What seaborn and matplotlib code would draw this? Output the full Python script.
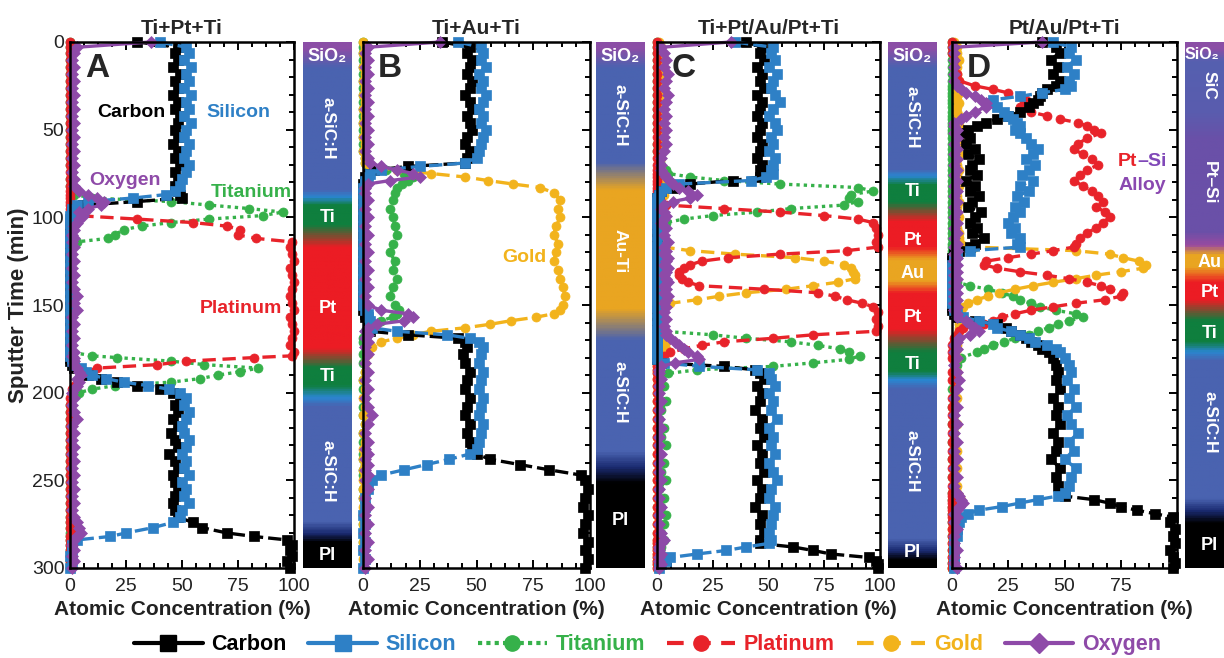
import numpy as np
import matplotlib
matplotlib.use("Agg")
import matplotlib.pyplot as plt
import seaborn as sns
from matplotlib.colors import LinearSegmentedColormap
from matplotlib.ticker import MultipleLocator
from matplotlib.lines import Line2D

# ---------------- panel A : Ti+Pt+Ti ----------------
time_a = [0, 3, 6, 10, 14, 18, 22, 26, 30, 34,
          38, 42, 46, 50, 54, 58, 62, 66, 70, 74,
          78, 82, 85, 87, 89, 91, 93, 95, 97, 99,
          101, 103, 105, 107, 110, 112, 114, 117, 121, 125,
          129, 133, 137, 141, 145, 149, 153, 157, 161, 165,
          169, 173, 177, 179, 180, 182, 184, 186, 188, 190,
          192, 194, 196, 198, 200, 203, 207, 211, 215, 219,
          223, 227, 231, 235, 239, 243, 247, 251, 255, 259,
          263, 267, 271, 274, 277, 280, 282, 284, 287, 290,
          293, 296, 300]
carbon_a = [30, 48, 47, 48, 46, 49, 47, 48, 46, 48,
            47, 49, 48, 47, 48, 46, 48, 47, 49, 47,
            48, 47, 48, 49, 50, 30, 6, 2, 1, 1,
            1, 0, 0, 0, 0, 0, 0, 0, 0, 0,
            0, 0, 0, 0, 0, 0, 0, 0, 0, 0,
            0, 0, 0, 0, 0, 0, 1, 2, 5, 8,
            14, 21, 30, 40, 46, 49, 47, 48, 46, 48,
            45, 47, 48, 44, 47, 48, 46, 47, 48, 47,
            46, 47, 48, 55, 59, 70, 82, 97, 99, 98,
            99, 97, 98]
silicon_a = [40, 52, 53, 51, 54, 52, 53, 51, 54, 52,
             53, 51, 54, 52, 51, 53, 52, 51, 53, 52,
             50, 49, 47, 43, 28, 8, 3, 1, 1, 0,
             0, 0, 1, 0, 0, 0, 0, 0, 0, 0,
             0, 0, 0, 0, 0, 0, 0, 0, 0, 0,
             0, 0, 0, 0, 1, 1, 2, 5, 7, 10,
             16, 24, 35, 44, 49, 52, 51, 53, 52, 50,
             51, 53, 52, 50, 52, 51, 53, 50, 52, 51,
             53, 50, 49, 46, 37, 25, 18, 3, 1, 1,
             0, 1, 0]
titanium_a = [0, 0, 0, 0, 0, 0, 0, 0, 0, 0,
              0, 0, 0, 0, 0, 0, 0, 0, 0, 1,
              0, 0, 1, 2, 10, 45, 62, 80, 95, 86,
              62, 45, 32, 24, 20, 17, 3, 0, 0, 0,
              0, 0, 0, 0, 1, 0, 0, 0, 0, 0,
              0, 0, 1, 10, 21, 45, 60, 84, 76, 66,
              58, 45, 20, 10, 4, 1, 0, 0, 0, 0,
              0, 0, 0, 0, 0, 0, 0, 0, 0, 0,
              0, 0, 0, 0, 0, 0, 0, 0, 0, 0,
              0, 0, 0]
platinum_a = [0, 0, 0, 0, 0, 0, 0, 0, 0, 0,
              0, 0, 0, 0, 0, 0, 0, 0, 0, 0,
              0, 0, 0, 0, 0, 0, 0, 0, 1, 3,
              30, 55, 70, 76, 75, 83, 99, 98, 99, 100,
              98, 99, 100, 99, 98, 99, 100, 98, 99, 100,
              99, 98, 100, 99, 82, 52, 39, 12, 7, 5,
              4, 3, 2, 1, 1, 0, 0, 0, 0, 0,
              0, 0, 0, 0, 0, 0, 0, 0, 0, 0,
              0, 0, 0, 0, 0, 1, 0, 0, 0, 0,
              0, 0, 0]
oxygen_a = [36, 3, 2, 1, 2, 1, 2, 1, 2, 1,
            2, 1, 2, 1, 2, 1, 2, 1, 2, 1,
            2, 2, 4, 8, 12, 15, 14, 8, 4, 6,
            4, 3, 2, 2, 1, 2, 1, 2, 1, 2,
            1, 2, 1, 2, 3, 2, 3, 1, 2, 1,
            2, 1, 2, 1, 2, 2, 2, 3, 4, 5,
            3, 4, 3, 2, 1, 2, 1, 2, 3, 1,
            2, 1, 2, 1, 2, 1, 2, 1, 2, 1,
            2, 1, 2, 3, 4, 5, 3, 2, 1, 2,
            1, 2, 1]

# ---------------- panel B : Ti+Au+Ti ----------------
time_b = [0, 3, 6, 10, 14, 18, 22, 26, 30, 34,
          38, 42, 46, 50, 54, 58, 62, 66, 69, 71,
          73, 75, 77, 79, 81, 83, 86, 90, 95, 100,
          105, 110, 115, 120, 125, 130, 135, 140, 145, 150,
          153, 155, 157, 159, 161, 163, 165, 167, 169, 171,
          174, 178, 183, 188, 193, 198, 203, 208, 213, 218,
          223, 228, 232, 235, 238, 241, 244, 247, 250, 255,
          260, 265, 270, 275, 280, 285, 290, 295, 300]
carbon_b = [35, 47, 46, 48, 47, 46, 48, 47, 45, 47,
            48, 46, 47, 48, 46, 45, 47, 46, 45, 20,
            5, 2, 1, 1, 0, 0, 0, 0, 0, 0,
            0, 0, 0, 0, 0, 0, 0, 0, 0, 0,
            0, 1, 1, 2, 2, 3, 3, 20, 42, 45,
            46, 44, 45, 47, 46, 45, 47, 46, 45, 47,
            46, 47, 48, 50, 56, 69, 82, 96, 98, 99,
            98, 97, 99, 98, 97, 99, 98, 99, 98]
silicon_b = [42, 52, 53, 52, 54, 51, 53, 52, 54, 53,
             51, 53, 52, 54, 53, 52, 51, 50, 45, 25,
             8, 3, 2, 1, 1, 0, 0, 0, 0, 0,
             0, 0, 0, 0, 0, 0, 0, 0, 0, 0,
             1, 2, 2, 3, 3, 4, 15, 37, 47, 51,
             53, 52, 51, 53, 52, 51, 53, 52, 51, 53,
             52, 51, 50, 47, 38, 28, 18, 8, 4, 2,
             1, 1, 0, 1, 0, 1, 0, 1, 0]
titanium_b = [0, 0, 0, 0, 0, 0, 0, 0, 0, 0,
              0, 0, 0, 0, 0, 0, 0, 1, 1, 2,
              10, 18, 22, 20, 17, 15, 14, 13, 12, 13,
              14, 15, 13, 12, 14, 13, 15, 13, 12, 14,
              16, 15, 13, 8, 4, 2, 1, 1, 0, 0,
              1, 0, 0, 1, 0, 0, 1, 0, 0, 1,
              0, 0, 1, 0, 0, 1, 0, 0, 1, 0,
              0, 1, 0, 0, 1, 0, 0, 1, 0]
gold_b = [0, 1, 0, 1, 0, 1, 0, 1, 0, 1,
          0, 1, 0, 1, 0, 1, 0, 1, 1, 3,
          15, 30, 45, 55, 66, 78, 84, 87, 86, 87,
          85, 84, 86, 85, 84, 86, 87, 88, 89, 88,
          87, 84, 76, 65, 56, 45, 30, 22, 15, 8,
          4, 2, 1, 1, 0, 1, 0, 1, 0, 1,
          0, 1, 0, 1, 0, 1, 0, 1, 0, 0,
          0, 0, 0, 0, 0, 0, 0, 0, 0]
oxygen_b = [34, 2, 1, 2, 1, 2, 1, 2, 1, 2,
            1, 2, 1, 2, 1, 2, 1, 2, 3, 8,
            15, 22, 25, 12, 2, 1, 1, 2, 1, 2,
            1, 2, 1, 2, 1, 2, 1, 2, 1, 2,
            8, 20, 22, 18, 6, 2, 1, 2, 1, 2,
            1, 2, 1, 2, 1, 2, 1, 2, 4, 2,
            1, 2, 1, 2, 1, 2, 1, 2, 1, 2,
            1, 2, 1, 2, 1, 2, 1, 2, 1]

# ---------------- panel C : Ti+Pt/Au/Pt+Ti ----------------
time_c = [0, 3, 6, 10, 14, 18, 22, 26, 30, 34,
          38, 42, 46, 50, 54, 58, 62, 66, 70, 73,
          75, 77, 79, 81, 83, 85, 87, 89, 91, 93,
          95, 97, 99, 101, 103, 106, 110, 114, 117, 119,
          121, 123, 125, 127, 129, 131, 133, 135, 137, 139,
          141, 143, 145, 147, 149, 151, 154, 158, 162, 165,
          167, 169, 171, 173, 175, 177, 179, 181, 183, 185,
          187, 189, 192, 196, 200, 205, 210, 215, 220, 225,
          230, 235, 240, 245, 250, 255, 260, 265, 270, 275,
          280, 284, 286, 288, 290, 292, 294, 296, 298, 300]
carbon_c = [40, 47, 46, 48, 45, 47, 46, 48, 45, 47,
            46, 45, 47, 46, 45, 47, 46, 45, 47, 46,
            47, 46, 34, 15, 7, 2, 1, 0, 0, 0,
            0, 0, 0, 0, 0, 0, 0, 0, 0, 0,
            0, 0, 0, 0, 0, 0, 0, 0, 0, 0,
            0, 0, 0, 0, 0, 0, 0, 0, 0, 0,
            0, 0, 0, 0, 0, 0, 0, 0, 2, 30,
            44, 46, 48, 45, 47, 46, 44, 47, 46, 48,
            45, 47, 46, 48, 45, 47, 46, 44, 47, 46,
            48, 46, 46, 61, 70, 78, 95, 98, 99, 99]
silicon_c = [35, 52, 51, 53, 50, 54, 52, 51, 53, 55,
             52, 50, 53, 54, 51, 52, 50, 53, 52, 51,
             52, 49, 42, 10, 4, 2, 1, 0, 0, 0,
             0, 0, 0, 0, 0, 0, 0, 0, 0, 0,
             0, 0, 0, 0, 0, 0, 0, 0, 0, 0,
             0, 0, 0, 0, 0, 0, 0, 0, 0, 0,
             0, 0, 0, 0, 0, 0, 0, 0, 3, 19,
             45, 50, 51, 53, 50, 52, 51, 54, 50, 52,
             51, 53, 50, 52, 54, 51, 50, 53, 52, 51,
             50, 51, 50, 40, 31, 18, 6, 4, 2, 1]
titanium_c = [0, 0, 0, 0, 0, 0, 0, 0, 0, 0,
              0, 0, 0, 0, 1, 0, 0, 1, 2, 4,
              5, 15, 30, 55, 90, 97, 87, 86, 90, 84,
              60, 45, 25, 12, 4, 1, 0, 0, 0, 0,
              0, 0, 0, 0, 0, 0, 0, 0, 0, 0,
              0, 0, 0, 0, 0, 0, 0, 0, 1, 3,
              25, 40, 60, 72, 82, 86, 91, 86, 70, 52,
              18, 5, 2, 3, 1, 4, 2, 1, 3, 2,
              4, 1, 3, 2, 4, 1, 3, 2, 4, 3,
              2, 3, 1, 2, 1, 2, 1, 2, 1, 1]
platinum_c = [0, 0, 0, 0, 0, 0, 0, 0, 0, 0,
              0, 0, 0, 0, 0, 0, 0, 0, 0, 0,
              0, 0, 0, 0, 0, 0, 0, 0, 2, 4,
              30, 55, 75, 90, 97, 98, 99, 98, 99, 85,
              55, 32, 20, 15, 12, 10, 10, 11, 14, 19,
              48, 72, 80, 85, 92, 97, 99, 98, 99, 98,
              70, 52, 30, 20, 12, 6, 3, 1, 1, 0,
              0, 0, 0, 0, 0, 0, 0, 0, 0, 0,
              0, 0, 0, 0, 0, 0, 0, 0, 0, 0,
              0, 0, 0, 0, 0, 0, 0, 0, 0, 0]
gold_c = [1, 2, 1, 2, 1, 2, 1, 2, 1, 2,
          1, 2, 1, 2, 1, 2, 1, 2, 1, 2,
          1, 2, 3, 2, 3, 2, 3, 2, 1, 2,
          1, 2, 1, 1, 2, 1, 1, 2, 3, 15,
          35, 62, 75, 84, 87, 88, 89, 89, 81, 70,
          58, 40, 28, 18, 6, 3, 2, 2, 1, 2,
          2, 3, 4, 3, 4, 3, 2, 1, 1, 0,
          0, 0, 0, 0, 0, 0, 0, 0, 0, 0,
          0, 0, 0, 0, 0, 0, 0, 0, 0, 0,
          0, 0, 0, 0, 0, 0, 0, 0, 0, 0]
oxygen_c = [33, 2, 3, 4, 3, 5, 4, 3, 5, 4,
            3, 4, 3, 4, 3, 4, 3, 2, 2, 2,
            3, 4, 6, 7, 10, 14, 18, 15, 7, 3,
            2, 3, 4, 3, 2, 4, 3, 5, 3, 4,
            3, 5, 4, 3, 5, 4, 3, 4, 5, 3,
            4, 3, 5, 4, 3, 4, 3, 4, 3, 4,
            4, 6, 8, 10, 12, 14, 18, 19, 8, 2,
            1, 1, 2, 1, 1, 2, 1, 1, 2, 1,
            1, 2, 1, 1, 2, 1, 1, 2, 1, 1,
            2, 3, 2, 1, 1, 2, 1, 1, 2, 1]

# ---------------- panel D : Pt/Au/Pt+Ti ----------------
time_d = [0, 3, 6, 10, 14, 18, 22, 25, 27, 29,
          31, 33, 35, 37, 40, 42, 44, 46, 48, 50,
          52, 55, 58, 61, 64, 67, 70, 73, 76, 79,
          82, 85, 88, 91, 94, 97, 100, 103, 106, 109,
          112, 115, 117, 119, 121, 123, 125, 127, 129, 131,
          133, 135, 137, 139, 141, 143, 145, 147, 149, 151,
          153, 155, 157, 159, 161, 163, 165, 167, 169, 171,
          173, 175, 177, 180, 184, 188, 193, 198, 203, 208,
          213, 218, 223, 228, 233, 238, 243, 248, 253, 257,
          259, 261, 263, 265, 267, 269, 271, 274, 278, 282,
          286, 290, 294, 297, 300]
carbon_d = [40, 46, 48, 44, 47, 45, 48, 46, 42, 40,
            39, 38, 36, 34, 30, 25, 20, 15, 11, 7,
            5, 8, 6, 10, 7, 12, 9, 8, 11, 6,
            10, 8, 12, 9, 7, 13, 10, 8, 11, 9,
            14, 10, 8, 3, 1, 0, 0, 0, 0, 0,
            0, 0, 0, 0, 0, 0, 0, 0, 0, 0,
            0, 1, 2, 10, 20, 24, 26, 30, 33, 35,
            38, 40, 43, 45, 46, 47, 46, 48, 45, 47,
            46, 48, 45, 47, 46, 44, 48, 46, 47, 48,
            50, 63, 70, 75, 82, 90, 98, 97, 99, 98,
            99, 97, 98, 99, 98]
silicon_d = [45, 53, 52, 55, 51, 54, 52, 53, 50, 40,
             30, 18, 16, 20, 23, 25, 27, 29, 30, 28,
             30, 33, 35, 38, 36, 33, 37, 34, 31, 36,
             30, 34, 29, 32, 28, 30, 27, 25, 28, 26,
             30, 29, 30, 8, 2, 1, 1, 0, 0, 0,
             0, 0, 0, 0, 0, 0, 0, 0, 0, 1,
             1, 2, 5, 12, 18, 20, 26, 30, 34, 37,
             42, 46, 48, 50, 52, 53, 51, 54, 52, 55,
             51, 53, 56, 52, 54, 50, 55, 53, 52, 50,
             47, 38, 30, 22, 12, 7, 4, 3, 2, 2,
             1, 1, 1, 1, 1]
titanium_d = [0, 0, 0, 0, 0, 0, 0, 0, 0, 0,
              0, 0, 0, 0, 0, 0, 0, 0, 0, 0,
              0, 0, 0, 0, 0, 0, 0, 0, 0, 0,
              0, 0, 0, 0, 0, 0, 0, 0, 0, 0,
              0, 0, 0, 0, 0, 0, 0, 0, 0, 0,
              0, 0, 2, 8, 16, 22, 27, 30, 35, 39,
              46, 55, 58, 52, 47, 43, 38, 34, 28, 23,
              18, 14, 11, 4, 2, 1, 1, 0, 1, 0,
              1, 0, 1, 0, 1, 0, 1, 0, 1, 0,
              1, 0, 1, 0, 1, 0, 1, 0, 1, 0,
              1, 0, 1, 0, 0]
platinum_d = [0, 0, 0, 1, 1, 2, 3, 10, 18, 25,
              30, 33, 32, 30, 35, 42, 48, 56, 60, 63,
              66, 60, 56, 54, 58, 62, 65, 60, 57, 54,
              58, 62, 65, 67, 64, 68, 70, 67, 64, 60,
              57, 55, 54, 45, 35, 25, 15, 14, 20, 30,
              42, 52, 60, 66, 70, 76, 75, 68, 55, 45,
              35, 28, 22, 18, 14, 5, 3, 2, 1, 1,
              0, 1, 0, 0, 1, 0, 0, 1, 0, 0,
              0, 0, 0, 0, 0, 0, 0, 0, 0, 0,
              0, 0, 0, 0, 0, 0, 0, 0, 0, 0,
              0, 0, 0, 0, 0]
gold_d = [1, 2, 2, 3, 2, 2, 3, 2, 2, 3,
          2, 2, 3, 2, 2, 3, 2, 2, 3, 2,
          2, 3, 2, 2, 3, 2, 2, 3, 2, 2,
          3, 2, 2, 3, 2, 2, 3, 2, 2, 3,
          3, 4, 10, 55, 70, 76, 83, 86, 85, 75,
          64, 55, 45, 36, 28, 21, 16, 11, 7, 5,
          4, 3, 3, 3, 3, 3, 3, 2, 2, 2,
          2, 2, 1, 2, 1, 2, 1, 1, 2, 1,
          1, 2, 1, 1, 2, 1, 2, 1, 2, 2,
          3, 4, 3, 2, 1, 1, 1, 1, 0, 1,
          0, 1, 0, 1, 0]
oxygen_d = [40, 1, 1, 1, 1, 1, 1, 2, 4, 6,
            10, 13, 15, 15, 10, 6, 4, 1, 1, 2,
            1, 2, 1, 2, 1, 2, 1, 2, 1, 2,
            1, 2, 1, 2, 1, 2, 1, 2, 1, 2,
            1, 2, 1, 2, 1, 2, 1, 2, 1, 2,
            1, 2, 1, 2, 1, 2, 1, 2, 1, 2,
            1, 2, 2, 6, 8, 10, 12, 8, 3, 2,
            1, 2, 1, 2, 1, 2, 3, 2, 1, 2,
            1, 2, 1, 2, 1, 2, 1, 2, 1, 2,
            3, 4, 5, 3, 2, 1, 2, 1, 2, 1,
            1, 2, 1, 1, 2]

titles = ["Ti+Pt+Ti", "Ti+Au+Ti", "Ti+Pt/Au/Pt+Ti", "Pt/Au/Pt+Ti"]
letters = ["A", "B", "C", "D"]
element_names = ["Carbon", "Silicon", "Titanium", "Platinum", "Gold", "Oxygen"]

# layer strips: (sputter time, colour) anchors and (text, time, rotation) labels
PUR, BLU, LBL, GRN = "#8b4ea6", "#4a63b0", "#2a86d0", "#0f7f3e"
RED, GLD, NAV, BLK, VIO = "#ec1c24", "#e9a521", "#1a2a70", "#000000", "#6a50a8"
strip_a = [(0, PUR), (3, PUR), (14, BLU), (84, BLU), (88, LBL), (93, GRN), (104, GRN),
           (117, RED), (175, RED), (186, GRN), (196, GRN), (203, LBL), (208, BLU),
           (274, BLU), (281, NAV), (286, BLK), (300, BLK)]
strip_b = [(0, PUR), (3, PUR), (14, BLU), (68, BLU), (84, GLD), (152, GLD), (170, BLU),
           (234, BLU), (243, NAV), (252, BLK), (300, BLK)]
strip_c = [(0, PUR), (3, PUR), (14, BLU), (72, BLU), (76, LBL), (81, GRN), (91, GRN),
           (102, RED), (117, RED), (124, GLD), (136, GLD), (143, RED), (164, RED),
           (177, GRN), (188, GRN), (193, LBL), (198, BLU), (284, BLU), (291, NAV),
           (296, BLK), (300, BLK)]
strip_d = [(0, PUR), (3, PUR), (10, "#5560b0"), (40, "#5a5cae"), (55, VIO), (108, VIO),
           (116, "#9a4aa0"), (121, GLD), (128, GLD), (137, RED), (147, RED), (159, GRN),
           (171, GRN), (177, LBL), (182, BLU), (261, BLU), (268, NAV), (275, BLK), (300, BLK)]
layers_a = [("SiO₂", 8, 0), ("a-SiC:H", 49, -90), ("Ti", 100, 0), ("Pt", 152, 0),
            ("Ti", 191, 0), ("a-SiC:H", 245, -90), ("PI", 293, 0)]
layers_b = [("SiO₂", 8, 0), ("a-SiC:H", 42, -90), ("Au-Ti", 119, -90),
            ("a-SiC:H", 200, -90), ("PI", 273, 0)]
layers_c = [("SiO₂", 8, 0), ("a-SiC:H", 43, -90), ("Ti", 85, 0), ("Pt", 113, 0),
            ("Au", 132, 0), ("Pt", 157, 0), ("Ti", 184, 0), ("a-SiC:H", 239, -90),
            ("PI", 291, 0)]
layers_d = [("SiO₂", 7, 0), ("SiC", 25, -90), ("Pt–Si", 80, -90), ("Au", 126, 0),
            ("Pt", 143, 0), ("Ti", 166, 0), ("a-SiC:H", 217, -90), ("PI", 287, 0)]

COLORS = {"Carbon": "#000000", "Silicon": "#2e80c6", "Titanium": "#36b14a",
          "Platinum": "#e8232a", "Gold": "#f2b31c", "Oxygen": "#8e4aa8"}
STYLE = {"Carbon": ((0, (4, 1.5)), "s", 6.5),
         "Silicon": ((0, (4, 1.5)), "s", 6.5),
         "Titanium": ((0, (1, 1.2)), "o", 6.5),
         "Platinum": ((0, (4, 2)), "o", 6.5),
         "Gold": ((0, (4, 2)), "o", 6.5),
         "Oxygen": ("-", "D", 6)}
DRAW_ORDER = ["Titanium", "Gold", "Platinum", "Carbon", "Silicon", "Oxygen"]

sns.set_theme(style="ticks")
plt.rcParams["font.family"] = ["Liberation Sans", "DejaVu Sans"]
plt.rcParams["axes.edgecolor"] = "black"
plt.rcParams["xtick.color"] = "black"
plt.rcParams["ytick.color"] = "black"

W, H = 1224, 658
fig = plt.figure(figsize=(W / 100, H / 100), dpi=100)


def box(x0, x1, y0=42, y1=568):
    return [x0 / W, 1 - y1 / H, (x1 - x0) / W, (y1 - y0) / H]


def draw_profile(ax, t, series):
    for name in DRAW_ORDER:
        if name not in series:
            continue
        ls, mk, ms = STYLE[name]
        sns.lineplot(x=series[name], y=t, orient="y", sort=False, estimator=None, ax=ax,
                     color=COLORS[name], linestyle=ls, linewidth=2.4, marker=mk,
                     markersize=ms, markeredgecolor=COLORS[name], markeredgewidth=0.5,
                     clip_on=False)


def draw_strip(ax, anchors, labels, last=False):
    cmap = LinearSegmentedColormap.from_list(
        "layers", [(t / 300, c) for t, c in anchors])
    ax.imshow(np.linspace(0, 1, 600).reshape(-1, 1), cmap=cmap, aspect="auto",
              extent=[0, 1, 300, 0])
    ax.set_xlim(0, 1)
    ax.set_ylim(300, 0)
    ax.axis("off")
    for text, t, rot in labels:
        if last and text == "SiO₂":
            # the last strip runs past the figure edge, keep its top label inside
            ax.text(0.0, t, text, color="white", ha="left", va="center",
                    fontsize=11.5, fontweight="bold")
            continue
        ax.text(0.5, t, text, color="white", ha="center", va="center", rotation=rot,
                fontsize=13 if rot == 0 else 12.5, fontweight="bold")


panels = [
    (time_a, {"Carbon": carbon_a, "Silicon": silicon_a, "Titanium": titanium_a,
              "Platinum": platinum_a, "Oxygen": oxygen_a}, (70, 294), (303, 352), strip_a, layers_a),
    (time_b, {"Carbon": carbon_b, "Silicon": silicon_b, "Titanium": titanium_b,
              "Gold": gold_b, "Oxygen": oxygen_b}, (363, 590), (596, 645), strip_b, layers_b),
    (time_c, {"Carbon": carbon_c, "Silicon": silicon_c, "Titanium": titanium_c,
              "Platinum": platinum_c, "Gold": gold_c, "Oxygen": oxygen_c},
     (657, 880), (888, 937), strip_c, layers_c),
    (time_d, {"Carbon": carbon_d, "Silicon": silicon_d, "Titanium": titanium_d,
              "Platinum": platinum_d, "Gold": gold_d, "Oxygen": oxygen_d},
     (952, 1177), (1185, 1234), strip_d, layers_d),
]

axes = []
for i, (t, series, (x0, x1), (s0, s1), anchors, labels) in enumerate(panels):
    ax = fig.add_axes(box(x0, x1))
    draw_profile(ax, t, series)
    ax.set_xlim(0, 100)
    ax.set_ylim(300, 0)
    ax.set_xticks([0, 25, 50, 75] if i == 3 else [0, 25, 50, 75, 100])
    ax.set_yticks(range(0, 301, 50))
    ax.xaxis.set_minor_locator(MultipleLocator(6.25))
    ax.yaxis.set_minor_locator(MultipleLocator(10))
    ax.tick_params(axis="x", which="both", direction="in", top=True, bottom=True,
                   labelsize=14, pad=7, width=1.4, labelcolor="#222222")
    ax.tick_params(axis="y", which="both", direction="in", right=True, left=False,
                   labelleft=(i == 0), labelsize=14, pad=4, width=1.4, labelcolor="#222222")
    ax.tick_params(which="major", length=6)
    ax.tick_params(which="minor", length=3.5)
    for sp in ax.spines.values():
        sp.set_visible(True)
        sp.set_linewidth(1.8)
        sp.set_color("black")
    ax.set_xlabel("Atomic Concentration (%)", fontsize=15, fontweight="bold",
                  color="#222222", labelpad=4)
    if i == 0:
        ax.set_ylabel("Sputter Time (min)", fontsize=16, fontweight="bold",
                      color="#222222", labelpad=2)
    else:
        ax.set_ylabel("")
    ax.set_title(titles[i], fontsize=15, fontweight="bold", pad=6)
    ax.text(12, 15, letters[i], fontsize=24, fontweight="bold", ha="center", va="center")
    sax = fig.add_axes(box(s0, s1))
    draw_strip(sax, anchors, labels, last=(i == 3))
    axes.append(ax)

ax_a, ax_b, ax_c, ax_d = axes
note = dict(fontsize=14, fontweight="bold", ha="center", va="center")
ax_a.text(27.5, 40, "Carbon", color=COLORS["Carbon"], **note)
ax_a.text(75, 40, "Silicon", color=COLORS["Silicon"], **note)
ax_a.text(24.5, 79, "Oxygen", color=COLORS["Oxygen"], **note)
ax_a.text(81, 86, "Titanium", color=COLORS["Titanium"], **note)
ax_a.text(76.5, 152, "Platinum", color=COLORS["Platinum"], **note)
ax_b.text(71, 123, "Gold", color=COLORS["Gold"], **note)
ax_d.text(82.4, 68, "Pt", color=COLORS["Platinum"], fontsize=14, fontweight="bold",
          ha="right", va="center")
ax_d.text(82.4, 68, "–Si", color="#8048b8", fontsize=14, fontweight="bold",
          ha="left", va="center")
ax_d.text(84.5, 82, "Alloy", color="#8a48b0", **note)

handle_style = {"Carbon": ("-", "s"), "Silicon": ("-", "s"), "Titanium": ((0, (1, 1)), "o"),
                "Platinum": ((0, (4, 2.5)), "o"), "Gold": ((0, (4, 2.5)), "o"),
                "Oxygen": ("-", "D")}
handles = [Line2D([], [], color=COLORS[n], linestyle=handle_style[n][0], linewidth=3,
                  marker=handle_style[n][1], markersize=11 if n != "Oxygen" else 10)
           for n in element_names]
fig.legend(handles, element_names, loc="center", bbox_to_anchor=(0.529, 0.02), ncol=6,
           frameon=False, handlelength=3.2, handletextpad=0.4, columnspacing=1.0,
           prop={"weight": "bold", "size": 15.5}, labelcolor="linecolor")

fig.savefig("out.png", dpi=100)
